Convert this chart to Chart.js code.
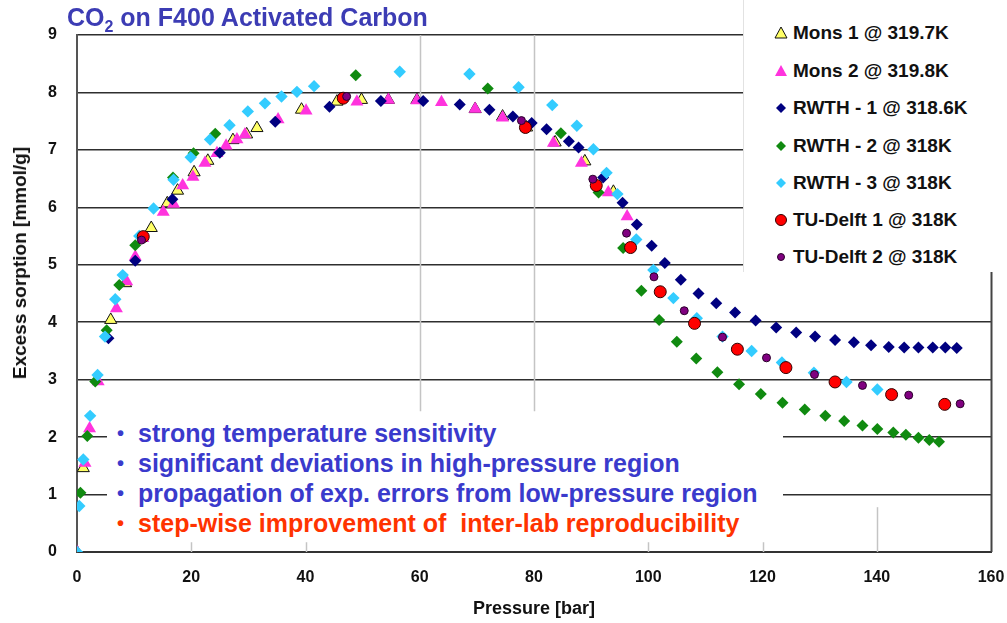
<!DOCTYPE html>
<html><head><meta charset="utf-8">
<script src="https://cdn.jsdelivr.net/npm/chart.js@4/dist/chart.umd.min.js"></script>
<style>
html,body{margin:0;padding:0;background:#fff;}
#wrap{position:relative;width:1007px;height:623px;overflow:hidden;font-family:Arial,"Liberation Sans",sans-serif;}
#c{position:absolute;left:0;top:0;}
#title{position:absolute;left:67px;top:3px;font-size:25px;line-height:28px;font-weight:bold;color:#3c3cb4;white-space:nowrap;}
#title sub{font-size:16px;line-height:0;vertical-align:-6px;}
#ytitle{position:absolute;left:20px;top:263px;transform:translate(-50%,-50%) rotate(-90deg);font-size:19px;font-weight:bold;white-space:nowrap;color:#111;}
#legend{position:absolute;left:743px;top:0;width:264px;height:272px;background:#fff;border-left:1px solid #e2e2e2;}
.li{position:absolute;left:0;height:24px;width:264px;}
.li svg{position:absolute;left:29px;top:4px;}
.li span{position:absolute;left:49px;top:1px;font-size:19px;line-height:22px;font-weight:bold;color:#111;white-space:nowrap;}
#notes{position:absolute;left:107px;top:412px;width:676px;height:130px;background:#fff;}
.nl{position:absolute;left:31px;font-size:25px;line-height:28px;font-weight:bold;white-space:pre;}
.bu{position:absolute;left:10px;font-size:20px;line-height:28px;font-weight:bold;}
</style>
</head><body>
<div id="wrap">
<canvas id="c" width="1007" height="623"></canvas>
<div id="title">CO<sub>2</sub> on F400 Activated Carbon</div>
<div id="ytitle">Excess sorption [mmol/g]</div>
<div id="legend"></div>
<div id="notes"></div>
</div>
<script>
// ---- data ----
const seriesNames = ['Mons 1 @ 319.7K','Mons 2 @ 319.8K','RWTH - 1 @ 318.6K','RWTH - 2 @ 318K','RWTH - 3 @ 318K','TU-Delft 1 @ 318K','TU-Delft 2 @ 318K'];

const mons1X = [0, 1.1, 5.9, 8.5, 13.0, 15.8, 17.6, 20.5, 22.9, 27.3, 29.7, 31.5, 39.3, 45.5, 49.8, 54.5, 59.5, 69.7, 74.5, 78.7, 83.7, 88.9, 93.9];
const mons1Y = [0, 1.46, 4.04, 4.68, 5.64, 6.07, 6.29, 6.61, 6.81, 7.17, 7.27, 7.38, 7.70, 7.84, 7.87, 7.87, 7.87, 7.71, 7.58, 7.39, 7.13, 6.80, 6.27];

const mons2X = [0, 1.4, 2.2, 3.7, 6.9, 8.7, 10.2, 11.5, 15.1, 16.9, 18.5, 20.3, 22.4, 24.5, 26.1, 28.0, 29.4, 35.2, 40.1, 49.0, 54.5, 59.5, 63.8, 69.7, 74.5, 83.4, 88.3, 93.0, 96.3];
const mons2Y = [0, 1.55, 2.15, 2.97, 4.24, 4.71, 5.14, 5.46, 5.92, 6.06, 6.38, 6.53, 6.77, 6.94, 7.07, 7.18, 7.27, 7.53, 7.68, 7.84, 7.87, 7.86, 7.83, 7.71, 7.56, 7.12, 6.77, 6.26, 5.84];

const rwth1X = [5.5, 10.2, 16.7, 25.0, 34.7, 44.2, 53.2, 60.6, 67.0, 72.2, 76.3, 79.6, 82.2, 86.1, 87.8, 92.1, 95.5, 98.0, 100.6, 102.9, 105.7, 108.8, 111.9, 115.2, 118.8, 122.4, 125.9, 129.2, 132.7, 136.0, 139.0, 142.1, 144.8, 147.3, 149.8, 152.0, 154.0];
const rwth1Y = [3.72, 5.07, 6.14, 6.95, 7.49, 7.75, 7.85, 7.85, 7.79, 7.70, 7.58, 7.47, 7.36, 7.15, 7.04, 6.52, 6.08, 5.70, 5.33, 5.03, 4.74, 4.50, 4.33, 4.17, 4.03, 3.91, 3.82, 3.75, 3.69, 3.65, 3.60, 3.57, 3.56, 3.56, 3.56, 3.56, 3.55];

const rwth2X = [0.6, 1.8, 3.2, 5.2, 7.4, 10.2, 16.8, 20.4, 24.2, 48.8, 71.9, 84.7, 91.3, 95.6, 98.8, 101.9, 105.0, 108.4, 112.1, 115.9, 119.7, 123.5, 127.4, 131.0, 134.3, 137.5, 140.1, 142.9, 145.1, 147.3, 149.2, 150.9];
const rwth2Y = [1.03, 2.02, 2.97, 3.86, 4.65, 5.34, 6.52, 6.94, 7.28, 8.30, 8.07, 7.29, 6.26, 5.29, 4.55, 4.04, 3.66, 3.37, 3.13, 2.92, 2.75, 2.60, 2.48, 2.37, 2.28, 2.20, 2.14, 2.08, 2.04, 1.99, 1.95, 1.92];

const rwth3X = [0, 0.4, 1.1, 2.3, 3.6, 4.9, 6.7, 8.0, 10.9, 13.4, 16.9, 19.9, 23.3, 26.7, 29.9, 32.9, 35.8, 38.5, 41.5, 56.5, 68.7, 77.3, 83.2, 87.5, 90.4, 92.7, 94.6, 97.9, 100.9, 104.4, 108.5, 113.0, 118.1, 123.4, 129.0, 134.7, 140.1];
const rwth3Y = [0, 0.80, 1.61, 2.37, 3.08, 3.75, 4.40, 4.82, 5.50, 5.98, 6.48, 6.87, 7.18, 7.43, 7.67, 7.81, 7.93, 8.01, 8.11, 8.36, 8.32, 8.09, 7.78, 7.42, 7.01, 6.60, 6.23, 5.44, 4.91, 4.42, 4.07, 3.75, 3.50, 3.30, 3.12, 2.96, 2.83];

const tud1X = [11.6, 46.6, 78.5, 90.9, 96.9, 102.1, 108.1, 115.6, 124.1, 132.7, 142.6, 151.9];
const tud1Y = [5.49, 7.90, 7.39, 6.38, 5.30, 4.53, 3.98, 3.53, 3.21, 2.96, 2.74, 2.57];

const tud2X = [11.3, 47.2, 77.8, 90.3, 96.2, 101.0, 106.3, 113.0, 120.7, 129.1, 137.5, 145.6, 154.6];
const tud2Y = [5.43, 7.93, 7.51, 6.49, 5.55, 4.79, 4.20, 3.74, 3.38, 3.09, 2.90, 2.73, 2.58];

const xTicks = [0, 20, 40, 60, 80, 100, 120, 140, 160];
const yTicks = [0, 1, 2, 3, 4, 5, 6, 7, 8, 9];

const notes = [
  ['strong temperature sensitivity', '#3a3acc'],
  ['significant deviations in high-pressure region', '#3a3acc'],
  ['propagation of exp. errors from low-pressure region', '#3a3acc'],
  ['step-wise improvement of  inter-lab reproducibility', '#ff3300']
];

// ---- styles ----
const styles = [
  {shape:'triangle', r:7,   fill:'#ffff66', stroke:'#111111', bw:1},
  {shape:'triangle', r:7.5, fill:'#ff33dd', stroke:'#ff33dd', bw:0},
  {shape:'rectRot',  r:6,   fill:'#000080', stroke:'#000080', bw:0},
  {shape:'rectRot',  r:6,   fill:'#108a10', stroke:'#108a10', bw:0},
  {shape:'rectRot',  r:6.2, fill:'#33ccff', stroke:'#33ccff', bw:0},
  {shape:'circle',   r:6,   fill:'#ff0000', stroke:'#330000', bw:1},
  {shape:'circle',   r:4,   fill:'#800080', stroke:'#2a002a', bw:1}
];

const xs = [mons1X, mons2X, rwth1X, rwth2X, rwth3X, tud1X, tud2X];
const ys = [mons1Y, mons2Y, rwth1Y, rwth2Y, rwth3Y, tud1Y, tud2Y];

const datasets = seriesNames.map((name, i) => ({
  label: name,
  data: xs[i].map((x, j) => ({x: x, y: ys[i][j]})),
  pointStyle: styles[i].shape,
  pointRadius: styles[i].r,
  pointHoverRadius: styles[i].r,
  backgroundColor: styles[i].fill,
  borderColor: styles[i].stroke,
  borderWidth: styles[i].bw,
  showLine: false,
  order: seriesNames.length - i
}));

// decorative grid segments (value units): [x, yFrom, yTo, color]
const vSegs = [
  [60, 2.45, 9, '#c4c4c4'], [80, 2.45, 9, '#c4c4c4'],
  [20, 0, 0.17, '#c4c4c4'], [40, 0, 0.17, '#c4c4c4'],
  [100, 0, 0.17, '#c4c4c4'], [120, 0, 0.17, '#c4c4c4'],
  [140, 0, 0.78, '#c4c4c4'], [160, 0, 9, '#444444']
];

const gridDecor = {
  id: 'gridDecor',
  beforeDatasetsDraw(chart) {
    const ctx = chart.ctx, sx = chart.scales.x, sy = chart.scales.y;
    ctx.save();
    vSegs.forEach(s => {
      const px = Math.round(sx.getPixelForValue(s[0])) + 0.5;
      ctx.beginPath();
      ctx.strokeStyle = s[3];
      ctx.lineWidth = s[0] === 160 ? 2 : 1.5;
      ctx.moveTo(px, sy.getPixelForValue(s[1]));
      ctx.lineTo(px, sy.getPixelForValue(s[2]));
      ctx.stroke();
    });
    ctx.restore();
  }
};

const tickFont = {family: 'Arial, "Liberation Sans", sans-serif', size: 16, weight: 'bold'};

new Chart(document.getElementById('c'), {
  type: 'scatter',
  data: {datasets: datasets},
  plugins: [gridDecor],
  options: {
    responsive: false,
    animation: false,
    devicePixelRatio: 1,
    layout: {padding: {left: 0, top: 35, right: 16, bottom: 0}},
    plugins: {legend: {display: false}, tooltip: {enabled: false}, title: {display: false}},
    scales: {
      x: {
        type: 'linear', min: 0, max: 160,
        afterBuildTicks: (s) => { s.ticks = xTicks.map(v => ({value: v})); },
        afterFit: (s) => { s.height = 71; s.paddingLeft = 0; s.paddingRight = 0; },
        ticks: {padding: 16, color: '#111', font: tickFont},
        grid: {display: false, drawTicks: false},
        border: {display: true, color: '#333', width: 2},
        title: {display: true, text: 'Pressure [bar]', color: '#111', padding: {top: 6, bottom: 3},
                font: {family: 'Arial, "Liberation Sans", sans-serif', size: 18, weight: 'bold'}}
      },
      y: {
        type: 'linear', min: 0, max: 9,
        afterBuildTicks: (s) => { s.ticks = yTicks.map(v => ({value: v})); },
        afterFit: (s) => { s.width = 77; s.paddingTop = 0; s.paddingBottom = 0; },
        ticks: {padding: 20, color: '#111', font: tickFont},
        grid: {color: '#2e2e2e', lineWidth: 1.5, drawTicks: false},
        border: {display: true, color: '#555', width: 2}
      }
    }
  }
});

// ---- legend (HTML overlay) ----
function markerSvg(st) {
  const s = 16, c = 8;
  let shape = '';
  if (st.shape === 'triangle') {
    shape = `<polygon points="${c},2 ${c+6},13 ${c-6},13" fill="${st.fill}" stroke="${st.stroke}" stroke-width="${st.bw}"/>`;
  } else if (st.shape === 'rectRot') {
    shape = `<polygon points="${c},${c-5} ${c+5},${c} ${c},${c+5} ${c-5},${c}" fill="${st.fill}"/>`;
  } else {
    const r = st.r > 5 ? 5.5 : 3.5;
    shape = `<circle cx="${c}" cy="${c}" r="${r}" fill="${st.fill}" stroke="${st.stroke}" stroke-width="${st.bw}"/>`;
  }
  return `<svg width="${s}" height="${s}" viewBox="0 0 ${s} ${s}">${shape}</svg>`;
}
const legendCenters = [33, 71, 108, 146, 183, 220, 257];
const lg = document.getElementById('legend');
seriesNames.forEach((n, i) => {
  const d = document.createElement('div');
  d.className = 'li';
  d.style.top = (legendCenters[i] - 12) + 'px';
  d.innerHTML = markerSvg(styles[i]) + '<span>' + n + '</span>';
  lg.appendChild(d);
});

// ---- notes (HTML overlay) ----
const noteCenters = [433, 463, 493, 523];
const nb = document.getElementById('notes');
notes.forEach((n, i) => {
  const top = noteCenters[i] - 412 - 14;
  const b = document.createElement('div');
  b.className = 'bu'; b.style.top = top + 'px'; b.style.color = n[1]; b.textContent = '•';
  const t = document.createElement('div');
  t.className = 'nl'; t.style.top = top + 'px'; t.style.color = n[1]; t.textContent = n[0];
  nb.appendChild(b); nb.appendChild(t);
});
</script>
</body></html>
